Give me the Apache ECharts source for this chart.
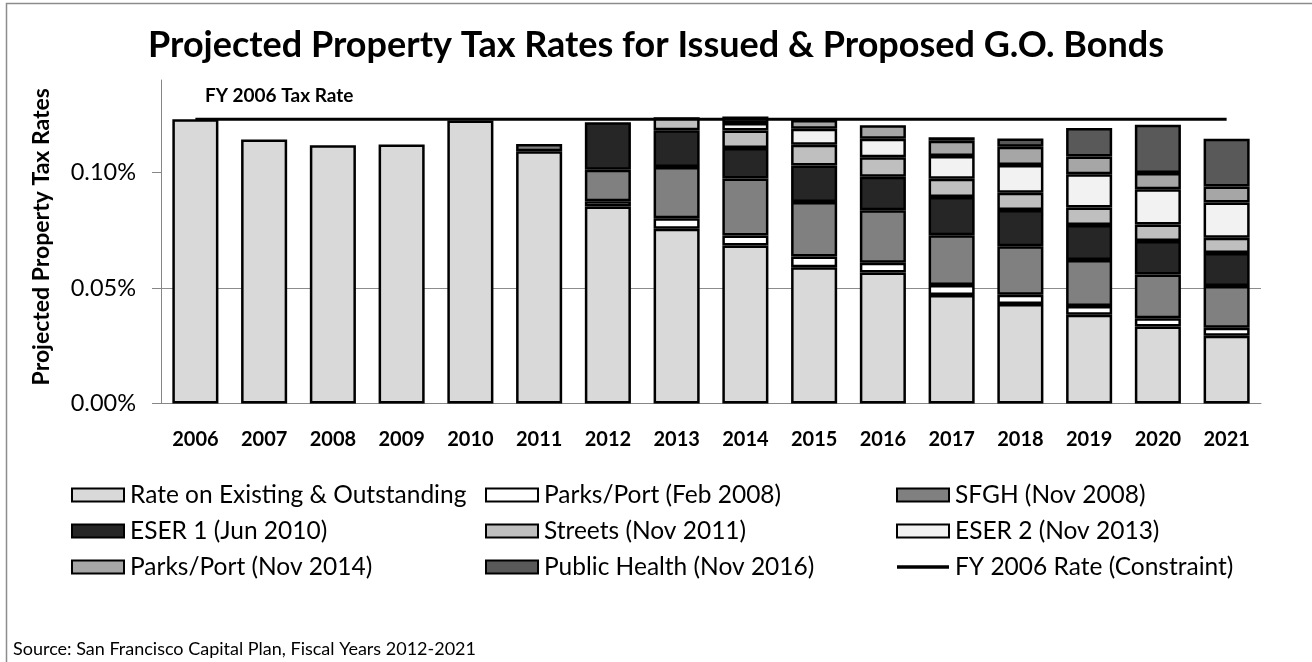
<!DOCTYPE html>
<html>
<head>
<meta charset="utf-8">
<script src="https://cdn.jsdelivr.net/npm/echarts@6/dist/echarts.min.js"></script>
<style>
  html, body { margin: 0; padding: 0; background: #fff; }
  #chart { width: 1312px; height: 662px; }
</style>
</head>
<body>
<div id="chart"></div>
<script>
// Fiscal years on the category axis
const years = ['2006','2007','2008','2009','2010','2011','2012','2013','2014','2015','2016','2017','2018','2019','2020','2021'];

// Projected tax rate contributions (percent of assessed value), stacked bottom to top
const existingRate   = [0.1230, 0.1142, 0.1118, 0.1121, 0.1225, 0.1092, 0.0853, 0.0756, 0.0684, 0.0590, 0.0567, 0.0470, 0.0431, 0.0384, 0.0333, 0.0293];
const parksFeb2008   = [null, null, null, null, null, null, 0.0022, 0.0046, 0.0043, 0.0046, 0.0042, 0.0043, 0.0040, 0.0038, 0.0036, 0.0035];
const sfghNov2008    = [null, null, null, null, null, 0.0031, 0.0137, 0.0221, 0.0247, 0.0236, 0.0227, 0.0215, 0.0210, 0.0199, 0.0189, 0.0181];
const eser1Jun2010   = [null, null, null, null, null, null, 0.0205, 0.0159, 0.0132, 0.0158, 0.0145, 0.0166, 0.0156, 0.0152, 0.0145, 0.0142];
const streetsNov2011 = [null, null, null, null, null, null, null, 0.0057, 0.0075, 0.0090, 0.0085, 0.0079, 0.0075, 0.0075, 0.0072, 0.0066];
const eser2Nov2013   = [null, null, null, null, null, null, null, null, 0.0033, 0.0069, 0.0080, 0.0098, 0.0120, 0.0144, 0.0152, 0.0153];
const parksNov2014   = [null, null, null, null, null, null, null, null, 0.0028, 0.0038, 0.0058, 0.0066, 0.0079, 0.0077, 0.0071, 0.0069];
const publicHealth   = [null, null, null, null, null, null, null, null, null, null, null, 0.0015, 0.0036, 0.0123, 0.0208, 0.0207];
const fy2006Rate     = [0.1230, 0.1230, 0.1230, 0.1230, 0.1230, 0.1230, 0.1230, 0.1230, 0.1230, 0.1230, 0.1230, 0.1230, 0.1230, 0.1230, 0.1230, 0.1230];

// Y axis tick values
const yTicks = [0, 0.05, 0.10];

const FONT = 'Lato, "Open Sans", sans-serif';

const barDefs = [
  ['Rate on Existing & Outstanding', existingRate,   '#d9d9d9'],
  ['Parks/Port (Feb 2008)',          parksFeb2008,   '#ffffff'],
  ['SFGH (Nov 2008)',                sfghNov2008,    '#808080'],
  ['ESER 1 (Jun 2010)',              eser1Jun2010,   '#262626'],
  ['Streets (Nov 2011)',             streetsNov2011, '#bfbfbf'],
  ['ESER 2 (Nov 2013)',              eser2Nov2013,   '#f2f2f2'],
  ['Parks/Port (Nov 2014)',          parksNov2014,   '#a6a6a6'],
  ['Public Health (Nov 2016)',       publicHealth,   '#595959']
];
const lineName = 'FY 2006 Rate (Constraint)';

const series = barDefs.map(([name, data, color]) => ({
  name,
  type: 'bar',
  stack: 'rates',
  data,
  barCategoryGap: '33%',
  itemStyle: { color, borderColor: '#000', borderWidth: 2.5 },
  emphasis: { disabled: true }
}));

series.push({
  name: lineName,
  type: 'line',
  data: fy2006Rate,
  symbol: 'none',
  z: 10,
  lineStyle: { color: '#000', width: 3 },
  itemStyle: { color: '#000' },
  emphasis: { disabled: true },
  // caption placed just above the start of the constraint line
  markPoint: {
    silent: true,
    symbol: 'circle',
    symbolSize: 1,
    itemStyle: { color: 'rgba(0,0,0,0)' },
    label: {
      show: true,
      position: [10, -32],
      align: 'left',
      verticalAlign: 'top',
      fontFamily: FONT,
      fontWeight: 'bold',
      fontSize: 19,
      color: '#000',
      formatter: 'FY 2006 Tax Rate'
    },
    data: [{ coord: [0, fy2006Rate[0]] }]
  }
});

// Legend laid out in three columns of three rows
const legendColumns = [
  [barDefs[0][0], barDefs[3][0], barDefs[6][0]],
  [barDefs[1][0], barDefs[4][0], barDefs[7][0]],
  [barDefs[2][0], barDefs[5][0], lineName]
];
const legendLefts = [71, 485, 896];
const legends = legendColumns.map((names, i) => ({
  orient: 'vertical',
  left: legendLefts[i],
  top: 482,
  padding: 0,
  itemGap: 10,
  itemWidth: 52,
  itemHeight: 13,
  icon: 'rect',
  selectedMode: false,
  data: names.map(n => (n === lineName ? { name: n, icon: 'path://M0,0 L52,0 L52,3.5 L0,3.5 Z' } : { name: n })),
  textStyle: { fontFamily: FONT, fontSize: 24.5, color: '#000', lineHeight: 26, padding: [0, 0, 0, 1] }
}));

const option = {
  animation: false,
  backgroundColor: '#fff',
  title: {
    text: 'Projected Property Tax Rates for Issued & Proposed G.O. Bonds',
    left: 'center',
    top: 22,
    textStyle: { fontFamily: FONT, fontWeight: 'bold', fontSize: 36, color: '#000' }
  },
  legend: legends,
  grid: { left: 161, right: 51, top: 80, bottom: 258.5, containLabel: false },
  xAxis: {
    type: 'category',
    data: years,
    axisLine: { lineStyle: { color: '#868686', width: 1 } },
    axisTick: { show: false },
    axisLabel: { fontFamily: FONT, fontWeight: 'bold', fontSize: 20, color: '#000', margin: 26 }
  },
  yAxis: {
    type: 'value',
    min: 0,
    max: 0.14,
    interval: 0.05,
    name: 'Projected Property Tax Rates',
    nameLocation: 'middle',
    nameGap: 108,
    nameRotate: 90,
    nameTextStyle: { fontFamily: FONT, fontWeight: 'bold', fontSize: 23, color: '#000', padding: [0, 0, 0, 10] },
    axisLine: { show: true, lineStyle: { color: '#868686', width: 1 } },
    axisTick: { show: true, length: 9, lineStyle: { color: '#868686' }, customValues: yTicks },
    axisLabel: {
      fontFamily: FONT, fontSize: 23.5, color: '#000', margin: 25,
      customValues: yTicks,
      formatter: v => v.toFixed(2) + '%'
    },
    splitLine: { show: true, showMaxLine: false, lineStyle: { color: '#8c8c8c', width: 1 } }
  },
  graphic: [
    {
      type: 'rect',
      left: 4, top: 1,
      shape: { width: 1400, height: 700 },
      style: { fill: 'none', stroke: '#8c8c8c', lineWidth: 1.5 },
      silent: true, z: -1
    },
    {
      type: 'text',
      left: 13, top: 640,
      style: { text: 'Source: San Francisco Capital Plan, Fiscal Years 2012-2021', fontFamily: FONT, fontSize: 18, fill: '#000' }
    }
  ],
  series
};

const chart = echarts.init(document.getElementById('chart'), null, { renderer: 'canvas' });
chart.setOption(option);
</script>
</body>
</html>
